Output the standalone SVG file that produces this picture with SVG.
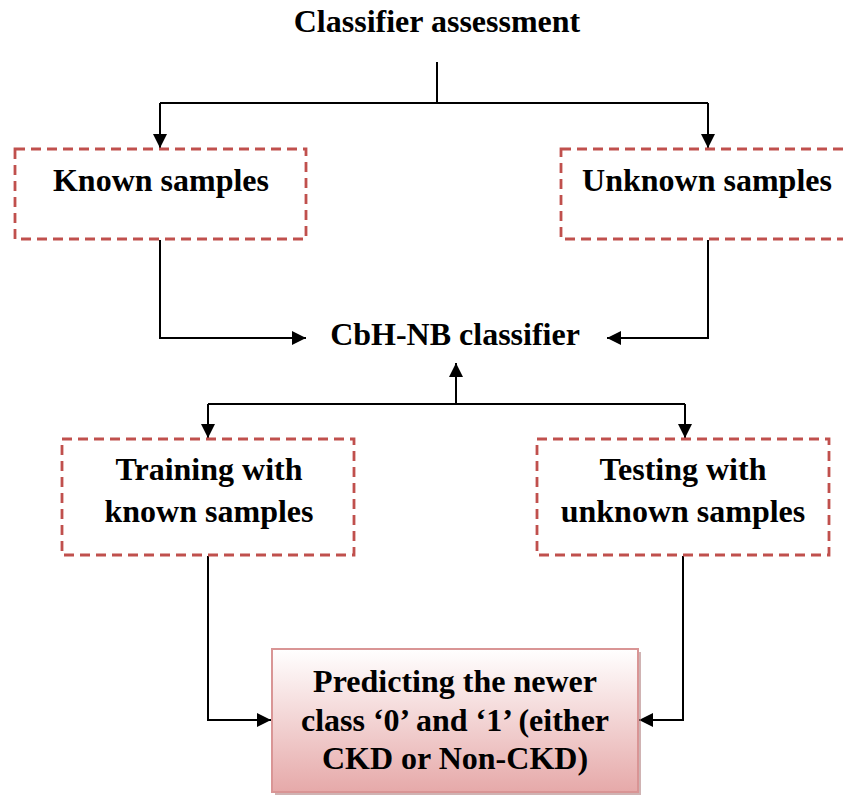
<svg xmlns="http://www.w3.org/2000/svg" width="843" height="797" viewBox="0 0 843 797">
<style>
text{font-family:"Liberation Serif","Times New Roman",serif;font-weight:bold;font-size:32px;fill:#000;text-anchor:middle}
.dash{fill:#fff;stroke:#c0504d;stroke-width:2.8;stroke-dasharray:10,6}
.conn{fill:none;stroke:#000;stroke-width:2}
</style>
<defs>
<marker id="ah" viewBox="0 0 10 10" refX="10" refY="5" markerWidth="14" markerHeight="14" markerUnits="userSpaceOnUse" orient="auto">
<path d="M0,0 L10,5 L0,10 z" fill="#000"/>
</marker>
<linearGradient id="pg" x1="0" y1="0" x2="0" y2="1">
<stop offset="0" stop-color="#ffffff"/>
<stop offset="1" stop-color="#e6a9a9"/>
</linearGradient>
</defs>
<rect width="843" height="797" fill="#fff"/>
<g id="connectors">
<path class="conn" d="M437,62 V103"/>
<path class="conn" d="M160,103 H708"/>
<path class="conn" d="M160,103 V148" marker-end="url(#ah)"/>
<path class="conn" d="M708,103 V148" marker-end="url(#ah)"/>
<path class="conn" d="M160,240 V338 H306" marker-end="url(#ah)"/>
<path class="conn" d="M708,240 V338 H607" marker-end="url(#ah)"/>
<path class="conn" d="M456,404 V363" marker-end="url(#ah)"/>
<path class="conn" d="M208,404 H685"/>
<path class="conn" d="M208,404 V438" marker-end="url(#ah)"/>
<path class="conn" d="M685,404 V438" marker-end="url(#ah)"/>
<path class="conn" d="M208,556 V720 H271" marker-end="url(#ah)"/>
<path class="conn" d="M683,556 V720 H639" marker-end="url(#ah)"/>
</g>
<g id="title"><text x="437" y="32">Classifier assessment</text></g>
<g id="known">
<rect class="dash" x="15" y="149" width="291" height="90"/>
<text x="161" y="191">Known samples</text>
</g>
<g id="unknown">
<rect class="dash" x="561" y="149" width="290" height="90"/>
<text x="707" y="191">Unknown samples</text>
</g>
<g id="classifier"><text x="455" y="345">CbH-NB classifier</text></g>
<g id="training">
<rect class="dash" x="62" y="439" width="292" height="116"/>
<text x="209" y="480">Training with</text>
<text x="209" y="522">known samples</text>
</g>
<g id="testing">
<rect class="dash" x="537" y="439" width="292" height="116"/>
<text x="683" y="480">Testing with</text>
<text x="683" y="522">unknown samples</text>
</g>
<g id="predicting">
<rect x="275" y="652" width="366" height="143" fill="#b08080" opacity="0.6"/>
<rect x="272" y="649" width="366" height="143" fill="url(#pg)" stroke="#d99595" stroke-width="2"/>
<text x="455" y="692">Predicting the newer</text>
<text x="455" y="731">class ‘0’ and ‘1’ (either</text>
<text x="455" y="769">CKD or Non-CKD)</text>
</g>
</svg>
